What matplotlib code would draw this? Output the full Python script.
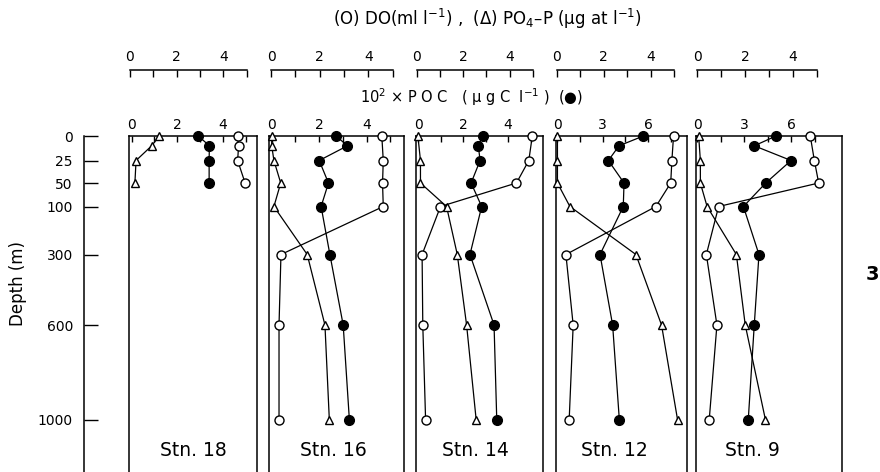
"""
Vertical profiles of DO, PO4-P and POC at five stations,
drawn as side by side depth panels with a shared, stretched depth scale.
"""

import numpy as np
import matplotlib
matplotlib.use("Agg")
import matplotlib.pyplot as plt
from matplotlib.ticker import FixedLocator, FixedFormatter

# Stations, left to right
stations = ["Stn. 18", "Stn. 16", "Stn. 14", "Stn. 12", "Stn. 9"]
depth_ticks = [0, 25, 50, 100, 300, 600, 1000]

# Dissolved oxygen (ml l-1), open circles
do_depth = [
    [0, 10, 25, 50],
    [0, 25, 50, 100, 300, 600, 1000],
    [0, 25, 50, 100, 300, 600, 1000],
    [0, 25, 50, 100, 300, 600, 1000],
    [0, 25, 50, 100, 300, 600, 1000],
]
do_value = [
    [4.62, 4.66, 4.62, 4.94],
    [4.56, 4.62, 4.59, 4.62, 0.41, 0.33, 0.33],
    [4.97, 4.82, 4.29, 1.03, 0.24, 0.27, 0.39],
    [4.98, 4.91, 4.86, 4.23, 0.40, 0.71, 0.54],
    [4.72, 4.89, 5.07, 0.90, 0.39, 0.83, 0.51],
]

# PO4-P (ug at l-1), open triangles
po4_depth = [
    [0, 10, 25, 50],
    [0, 10, 25, 50, 100, 300, 600, 1000],
    [0, 25, 50, 100, 300, 600, 1000],
    [0, 25, 50, 100, 300, 600, 1000],
    [0, 25, 50, 100, 300, 600, 1000],
]
po4_value = [
    [1.26, 0.93, 0.26, 0.21],
    [0.03, 0.03, 0.12, 0.40, 0.12, 1.49, 2.22, 2.40],
    [0.06, 0.17, 0.17, 1.29, 1.75, 2.15, 2.56],
    [0.04, 0.04, 0.04, 0.57, 3.38, 4.47, 5.15],
    [0.07, 0.14, 0.14, 0.42, 1.64, 2.01, 2.85],
]

# 10^2 x POC (ugC l-1), filled circles
poc_depth = [
    [0, 10, 25, 50],
    [0, 10, 25, 50, 100, 300, 600, 1000],
    [0, 10, 25, 50, 100, 300, 600, 1000],
    [0, 10, 25, 50, 100, 300, 600, 1000],
    [0, 10, 25, 50, 100, 300, 600, 1000],
]
poc_value = [
    [2.92, 3.40, 3.39, 3.39],
    [2.71, 3.19, 2.00, 2.39, 2.08, 2.45, 3.01, 3.27],
    [2.88, 2.68, 2.76, 2.36, 2.83, 2.31, 3.38, 3.50],
    [5.68, 4.08, 3.38, 4.41, 4.36, 2.83, 3.66, 4.10],
    [5.02, 3.64, 5.98, 4.37, 2.95, 3.94, 3.64, 3.26],
]

# Layout in pixels of the 880x472 canvas
W, H = 880, 472
FRAME_TOP = 136
panel_left = [129, 269, 416, 555.5, 696]
panel_right = [257, 404, 543, 687, 842]
poc_zero = [131.5, 271.7, 418, 557, 697]
poc_ppu = [22.9, 23.75, 22.5, 15.2, 15.73]
top_zero = [130, 271, 416.5, 556.5, 697]
top_ppu = [23.3, 24.3, 23.3, 23.5, 24.0]
label_center = [193.5, 333, 475, 614.5, 752.7]

# stretched depth axis (piecewise linear, like the original drawing)
D_NODES = [0, 25, 50, 100, 300, 600, 1000, 1400]
P_NODES = [0, 24.5, 47, 70.5, 118.5, 189, 283.5, 378]
DEPTH_MAX = 1222


def fwd(d):
    return np.interp(d, D_NODES, P_NODES)


def inv(p):
    return np.interp(p, P_NODES, D_NODES)


plt.rcParams["font.family"] = ["DejaVu Sans"]
fig = plt.figure(figsize=(W / 100, H / 100), dpi=100)
ax_h = (H - FRAME_TOP) / H

line_kw = dict(color="black", lw=0.9, clip_on=False)

for i in range(len(stations)):
    L, R = panel_left[i], panel_right[i]
    ax = fig.add_axes([L / W, 0, (R - L) / W, ax_h])
    ax.set_yscale("function", functions=(fwd, inv))
    axt = ax.twiny()
    ax.set_ylim(DEPTH_MAX, 0)

    # POC scale along the frame top
    ax.set_xlim((L - poc_zero[i]) / poc_ppu[i], (R - poc_zero[i]) / poc_ppu[i])
    if i < 3:
        ticks = [0, 1, 2, 3, 4, 5]
        labels = ["0", "", "2", "", "4", ""]
    else:
        ticks = [0, 1.5, 3, 4.5, 6, 7.5]
        labels = ["0", "", "3", "", "6", ""]
    ax.xaxis.tick_top()
    ax.xaxis.set_major_locator(FixedLocator(ticks))
    ax.xaxis.set_major_formatter(FixedFormatter(labels))
    ax.tick_params(axis="x", which="both", direction="in", length=4.5,
                   width=1, pad=3, labelsize=10, top=True, bottom=False,
                   labeltop=True, labelbottom=False)
    ax.tick_params(axis="y", left=False, labelleft=False, right=False)
    ax.spines["bottom"].set_visible(False)
    for s in ("left", "right", "top"):
        ax.spines[s].set_linewidth(1.1)

    # floating DO / PO4 scale above
    axt.set_xlim((L - top_zero[i]) / top_ppu[i], (R - top_zero[i]) / top_ppu[i])
    axt.xaxis.set_major_locator(FixedLocator([0, 1, 2, 3, 4, 5]))
    axt.xaxis.set_major_formatter(FixedFormatter(["0", "", "2", "", "4", ""]))
    axt.tick_params(axis="x", direction="in", length=5, width=1, pad=4,
                    labelsize=10)
    for s in ("left", "right", "bottom"):
        axt.spines[s].set_visible(False)
    axt.spines["top"].set_position(("outward", 47.5))
    axt.spines["top"].set_bounds(0, 5)
    axt.spines["top"].set_linewidth(1.1)

    ax.plot(poc_value[i], poc_depth[i], marker="o", ms=7, mfc="black",
            mec="black", zorder=3, **line_kw)
    axt.plot(po4_value[i], po4_depth[i], marker="^", ms=5.5, mfc="white",
             mec="black", mew=1, zorder=3, **line_kw)
    axt.plot(do_value[i], do_depth[i], marker="o", ms=6.5, mfc="white",
             mec="black", mew=1, zorder=4, **line_kw)

    ax.text((label_center[i] - L) / (R - L), 0.0625, stations[i],
            transform=ax.transAxes, ha="center", va="center", fontsize=13.5)

# depth scale on its own spine
axd = fig.add_axes([84 / W, 0, 0.001, ax_h])
axd.set_yscale("function", functions=(fwd, inv))
axd.set_ylim(DEPTH_MAX, 0)
axd.set_yticks(depth_ticks)
axd.set_yticklabels([str(d) for d in depth_ticks])
axd.yaxis.set_minor_locator(FixedLocator([]))
axd.tick_params(axis="y", direction="in", length=10, width=1, pad=8,
                labelsize=10)
axd.set_xticks([])
for s in ("right", "top", "bottom"):
    axd.spines[s].set_visible(False)
axd.spines["left"].set_linewidth(1.1)
axd.patch.set_visible(False)

fig.text(18 / W, 1 - 283 / H, "Depth (m)", rotation=90, ha="center",
         va="center", fontsize=12)

fig.text(487 / W, 1 - 19 / H,
         r"(O) DO(ml l$^{-1}$) ,  (Δ) PO$_4$–P (μg at l$^{-1}$)",
         ha="center", va="center", fontsize=12)
fig.text(472 / W, 1 - 97 / H,
         r"10$^2$ × P O C   ( μ g C  l$^{-1}$ )  (●)",
         ha="center", va="center", fontsize=10.5)
fig.text(872 / W, 1 - 274 / H, "3", ha="center", va="center",
         fontsize=14, fontweight="bold")

fig.savefig("out.png", dpi=100)
